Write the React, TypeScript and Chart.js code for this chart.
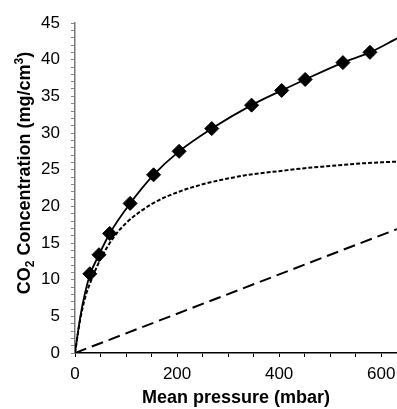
import { useEffect, useRef } from 'react';
import { Chart, registerables } from 'chart.js';

Chart.register(...registerables);

// Measured sorption data (diamonds)
const measuredPressure = [29, 47, 68, 108, 154, 204, 268, 346, 405, 451, 525, 578];
const measuredConcentration = [10.8, 13.4, 16.3, 20.4, 24.3, 27.5, 30.6, 33.8, 35.8, 37.3, 39.6, 41.0];

// Total fit (solid line)
const totalFitPressure = [0, 10, 20, 30, 47, 68, 108, 154, 204, 268, 346, 405, 451, 525, 578, 631];
const totalFitConcentration = [0, 4.8, 8.3, 10.8, 13.4, 16.3, 20.4, 24.3, 27.5, 30.6, 33.8, 35.8, 37.3, 39.6, 41.0, 42.9];

// Langmuir contribution (dotted line)
const langmuirPressure = [0, 10, 20, 30, 50, 75, 100, 150, 200, 250, 300, 350, 400, 450, 500, 550, 600, 631];
const langmuirConcentration = [0, 4.5, 7.6, 9.6, 12.8, 15.7, 17.7, 20.3, 21.9, 23.0, 23.8, 24.4, 24.8, 25.2, 25.5, 25.8, 26.0, 26.1];

// Henry contribution (dashed line)
const henryPressure = [0, 631];
const henryConcentration = [0, 16.9];

// Axis ticks
const xTickValues = [0, 50, 100, 150, 200, 250, 300, 350, 400, 450, 500, 550, 600];
const xLabelValues = [0, 200, 400, 600];
const yLabelEvery = 5;

const FONT = "'Liberation Sans', Arial, sans-serif";

const toPoints = (xs: number[], ys: number[]) => xs.map((x, i) => ({ x, y: ys[i] }));

const yTitlePlugin = {
  id: 'yTitle',
  afterDraw(chart: any) {
    const ctx = chart.ctx as CanvasRenderingContext2D;
    const big = `bold 18px ${FONT}`;
    const small = `bold 12px ${FONT}`;
    const parts: { t: string; f: string; dy: number }[] = [
      { t: 'CO', f: big, dy: 0 },
      { t: '2', f: small, dy: 4 },
      { t: ' Concentration (mg/cm', f: big, dy: 0 },
      { t: '3', f: small, dy: -7 },
      { t: ')', f: big, dy: 0 },
    ];
    ctx.save();
    let total = 0;
    const widths = parts.map((p) => {
      ctx.font = p.f;
      const w = ctx.measureText(p.t).width;
      total += w;
      return w;
    });
    ctx.translate(24, 173);
    ctx.rotate(-Math.PI / 2);
    ctx.fillStyle = '#000';
    ctx.textBaseline = 'alphabetic';
    ctx.textAlign = 'left';
    let x = -total / 2;
    parts.forEach((p, i) => {
      ctx.font = p.f;
      ctx.fillText(p.t, x, 6 + p.dy);
      x += widths[i];
    });
    ctx.restore();
  },
};

export default function App() {
  const canvasRef = useRef<HTMLCanvasElement | null>(null);

  useEffect(() => {
    document.body.style.margin = '0';
    const canvas = canvasRef.current;
    if (!canvas) return;
    const chart = new Chart(canvas, {
      type: 'scatter',
      data: {
        datasets: [
          {
            label: 'Measured',
            data: toPoints(measuredPressure, measuredConcentration),
            pointStyle: 'rectRot',
            pointRadius: 7,
            pointBackgroundColor: '#000',
            pointBorderColor: '#000',
            pointBorderWidth: 1,
            showLine: false,
          },
          {
            label: 'Total fit',
            data: toPoints(totalFitPressure, totalFitConcentration),
            showLine: true,
            borderColor: '#000',
            borderWidth: 1.8,
            pointRadius: 0,
            cubicInterpolationMode: 'monotone',
          },
          {
            label: 'Langmuir',
            data: toPoints(langmuirPressure, langmuirConcentration),
            showLine: true,
            borderColor: '#000',
            borderWidth: 2,
            borderDash: [4, 2],
            pointRadius: 0,
            cubicInterpolationMode: 'monotone',
          },
          {
            label: 'Henry',
            data: toPoints(henryPressure, henryConcentration),
            showLine: true,
            borderColor: '#000',
            borderWidth: 2,
            borderDash: [12, 6],
            pointRadius: 0,
          },
        ],
      },
      options: {
        animation: false,
        responsive: false,
        devicePixelRatio: 1,
        layout: { autoPadding: false, padding: { top: 23, right: 0, left: 0, bottom: 0 } },
        plugins: {
          legend: { display: false },
          tooltip: { enabled: false },
        },
        scales: {
          x: {
            type: 'linear',
            min: 0,
            max: 631,
            afterBuildTicks: (scale: any) => {
              scale.ticks = xTickValues.map((value) => ({ value }));
            },
            afterFit: (scale: any) => {
              scale.height = 56;
              scale.paddingRight = 0;
              scale.paddingLeft = 0;
            },
            ticks: {
              autoSkip: false,
              maxRotation: 0,
              padding: 7,
              color: '#000',
              font: { family: FONT, size: 17 },
              callback: (v: any) => (xLabelValues.includes(Number(v)) ? String(v) : ''),
            },
            grid: { drawOnChartArea: false, tickLength: 4, color: '#000', lineWidth: 1 },
            border: { color: '#000', width: 1.5 },
            title: {
              display: true,
              text: 'Mean pressure (mbar)',
              color: '#000',
              font: { family: FONT, size: 18, weight: 'bold' },
              padding: { top: 2, bottom: 0 },
            },
          },
          y: {
            type: 'linear',
            min: 0,
            max: 45,
            afterFit: (scale: any) => {
              scale.width = 75;
            },
            ticks: {
              stepSize: 1,
              autoSkip: false,
              padding: 11,
              color: '#000',
              font: { family: FONT, size: 17 },
              callback: (v: any) => (Number(v) % yLabelEvery === 0 ? String(v) : ''),
            },
            grid: { drawOnChartArea: false, tickLength: 4, color: '#888', lineWidth: 1 },
            border: { color: '#777', width: 1.5 },
          },
        },
      },
      plugins: [yTitlePlugin],
    } as any);
    return () => chart.destroy();
  }, []);

  return <canvas ref={canvasRef} width={397} height={409} style={{ display: 'block' }} />;
}
